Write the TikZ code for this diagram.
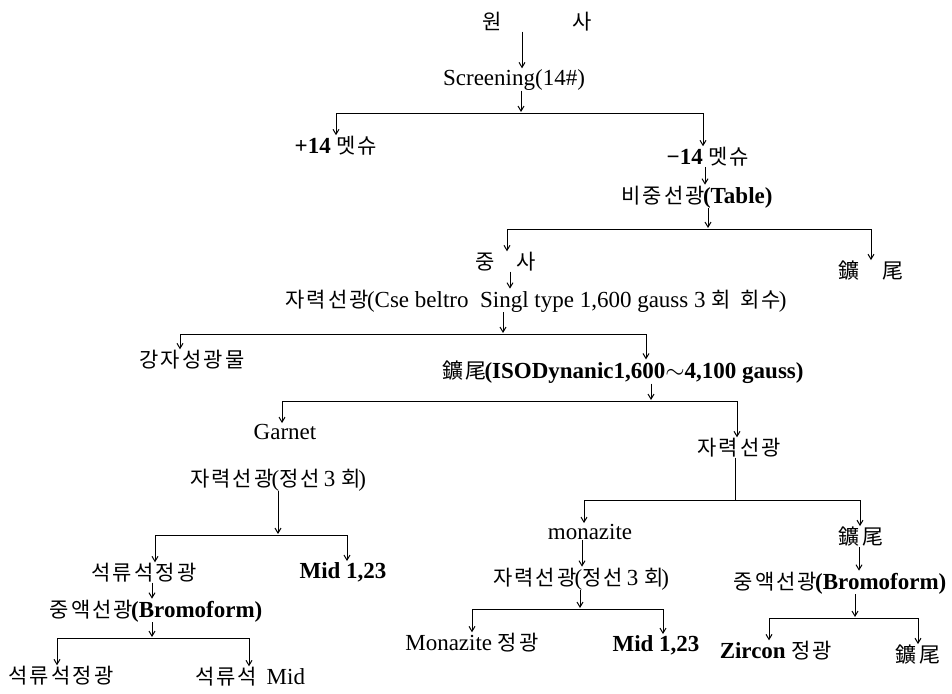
\documentclass[tikz,border=0pt]{standalone}
\usepackage{fontspec}
\setmainfont{Liberation Serif}
\newfontfamily\krfont[LetterSpace=10]{Noto Sans CJK KR}
\newcommand\kor[1]{{\fontsize{21}{24}\krfont #1}\kern-2pt\relax}
\usetikzlibrary{arrows.meta}
\begin{document}
\begin{tikzpicture}[x=1pt,y=-1pt,
  lbl/.style={inner sep=0pt, font=\fontsize{23}{26}\selectfont},
  arr/.style={-{Straight Barb[length=5pt,width=6pt]}, line width=1pt, shorten >=1pt},
  bar/.style={line width=1pt}]
\useasboundingbox (0,0) rectangle (952,693);
% nodes
\node[lbl] (src) at (536,22) {\kor{원}\hspace{72pt}\kor{사}};
\node[lbl] (scr) at (514,80) {Screening(14\#)};
\node[lbl] (p14) at (335,146) {\textbf{+14} \kor{멧슈}};
\node[lbl] (m14) at (707,157) {\textbf{−14} \kor{멧슈}};
\node[lbl] (tab) at (697,197) {\kor{비중선광}\textbf{(Table)}};
\node[lbl] (jung) at (505,262) {\kor{중}\hspace{24pt}\kor{사}};
\node[lbl] (t1) at (870,271) {\kor{鑛}\hspace{26pt}\kor{尾}};
\node[lbl] (mag1) at (536,301) {\kor{자력선광}(Cse beltro\ \ Singl type 1,600 gauss 3 \kor{회}\ \ \kor{회수})};
\node[lbl] (strong) at (191,360) {\kor{강자성광물}};
\node[lbl] (t2) at (623,372) {\kor{鑛尾}\textbf{(ISODynanic1,600}$\sim$\textbf{4,100 gauss)}};
\node[lbl] (gar) at (285,432) {Garnet};
\node[lbl] (mag2) at (738,448) {\kor{자력선광}};
\node[lbl] (mag3) at (278,480) {\kor{자력선광}(\kor{정선} 3 \kor{회})};
\node[lbl] (gc1) at (143,573) {\kor{석류석정광}};
\node[lbl] (mid1) at (343,572) {\textbf{Mid 1,23}};
\node[lbl] (hv1) at (156,611) {\kor{중액선광}\textbf{(Bromoform)}};
\node[lbl] (gc2) at (60,676) {\kor{석류석정광}};
\node[lbl] (gm) at (250,677) {\kor{석류석}\ \ Mid};
\node[lbl] (mon) at (590,532) {monazite};
\node[lbl] (t3) at (860,537) {\kor{鑛尾}};
\node[lbl] (mag4) at (581,579) {\kor{자력선광}(\kor{정선} 3 \kor{회})};
\node[lbl] (hv2) at (840,583) {\kor{중액선광}\textbf{(Bromoform)}};
\node[lbl] (mc) at (471,643) {Monazite \kor{정광}};
\node[lbl] (mid2) at (656,645) {\textbf{Mid 1,23}};
\node[lbl] (zc) at (775,651) {\textbf{Zircon} \kor{정광}};
\node[lbl] (t4) at (917,655) {\kor{鑛尾}};
% straight arrows between nodes
\draw[arr] ([xshift=-14pt]src.south) -- ([xshift=8pt]scr.north);
\draw[arr] ([xshift=-2pt]m14.south) -- ([xshift=8pt]tab.north);
\draw[arr] ([xshift=5pt]jung.south) -- ([xshift=-26pt]mag1.north);
\draw[arr] ([xshift=-8pt]mon.south) -- ([xshift=1pt]mag4.north);
\draw[arr] ([xshift=-1pt]t3.south) -- ([xshift=19pt]hv2.north);
\draw[arr] ([xshift=9pt]gc1.south) -- ([xshift=-4pt]hv1.north);
% split 1
\coordinate (s1) at (521,113); \coordinate (s1l) at (336,113); \coordinate (s1r) at (703,113);
\draw[bar] (s1l) -- (s1r);
\draw[arr] (scr.south -| s1) -- (s1);
\draw[arr] (s1l) -- (s1l |- p14.north);
\draw[arr] (s1r) -- (s1r |- m14.north);
% split 2
\coordinate (s2) at (708,229); \coordinate (s2l) at (507,229); \coordinate (s2r) at (871,229);
\draw[bar] (s2l) -- (s2r);
\draw[arr] (tab.south -| s2) -- (s2);
\draw[arr] (s2l) -- (s2l |- jung.north);
\draw[arr] (s2r) -- (s2r |- t1.north);
% split 3
\coordinate (s3) at (503,334); \coordinate (s3l) at (180,334); \coordinate (s3r) at (646,334);
\draw[bar] (s3l) -- (s3r);
\draw[arr] (mag1.south -| s3) -- (s3);
\draw[arr] (s3l) -- (s3l |- strong.north);
\draw[arr] (s3r) -- (s3r |- t2.north);
% split 4
\coordinate (s4) at (651,401); \coordinate (s4l) at (282,401); \coordinate (s4r) at (737,401);
\draw[bar] (s4l) -- (s4r);
\draw[arr] (t2.south -| s4) -- (s4);
\draw[arr] (s4l) -- (s4l |- gar.north);
\draw[arr] (s4r) -- (s4r |- mag2.north);
% split 5
\coordinate (s5) at (278,535); \coordinate (s5l) at (155,535); \coordinate (s5r) at (347,535);
\draw[bar] (s5l) -- (s5r);
\draw[arr] (mag3.south -| s5) -- (s5);
\draw[arr] (s5l) -- (s5l |- gc1.north);
\draw[arr] (s5r) -- (s5r |- mid1.north);
% split 6
\coordinate (s6) at (152,638); \coordinate (s6l) at (57,638); \coordinate (s6r) at (249,638);
\draw[bar] (s6l) -- (s6r);
\draw[arr] (hv1.south -| s6) -- (s6);
\draw[arr] (s6l) -- (s6l |- gc2.north);
\draw[arr] (s6r) -- (s6r |- gm.north);
% split 7
\coordinate (s7) at (735,500); \coordinate (s7l) at (584,500); \coordinate (s7r) at (860,500);
\draw[bar] (s7l) -- (s7r);
\draw[bar] (mag2.south -| s7) -- (s7);
\draw[arr] (s7l) -- (s7l |- mon.north);
\draw[arr] (s7r) -- (s7r |- t3.north);
% split 8
\coordinate (s8) at (580,609); \coordinate (s8l) at (472,609); \coordinate (s8r) at (663,609);
\draw[bar] (s8l) -- (s8r);
\draw[arr] (mag4.south -| s8) -- (s8);
\draw[arr] (s8l) -- (s8l |- mc.north);
\draw[arr] (s8r) -- (s8r |- mid2.north);
% split 9
\coordinate (s9) at (855,618); \coordinate (s9l) at (769,618); \coordinate (s9r) at (918,618);
\draw[bar] (s9l) -- (s9r);
\draw[arr] (hv2.south -| s9) -- (s9);
\draw[arr] (s9l) -- (s9l |- zc.north);
\draw[arr] (s9r) -- (s9r |- t4.north);
\end{tikzpicture}
\end{document}
